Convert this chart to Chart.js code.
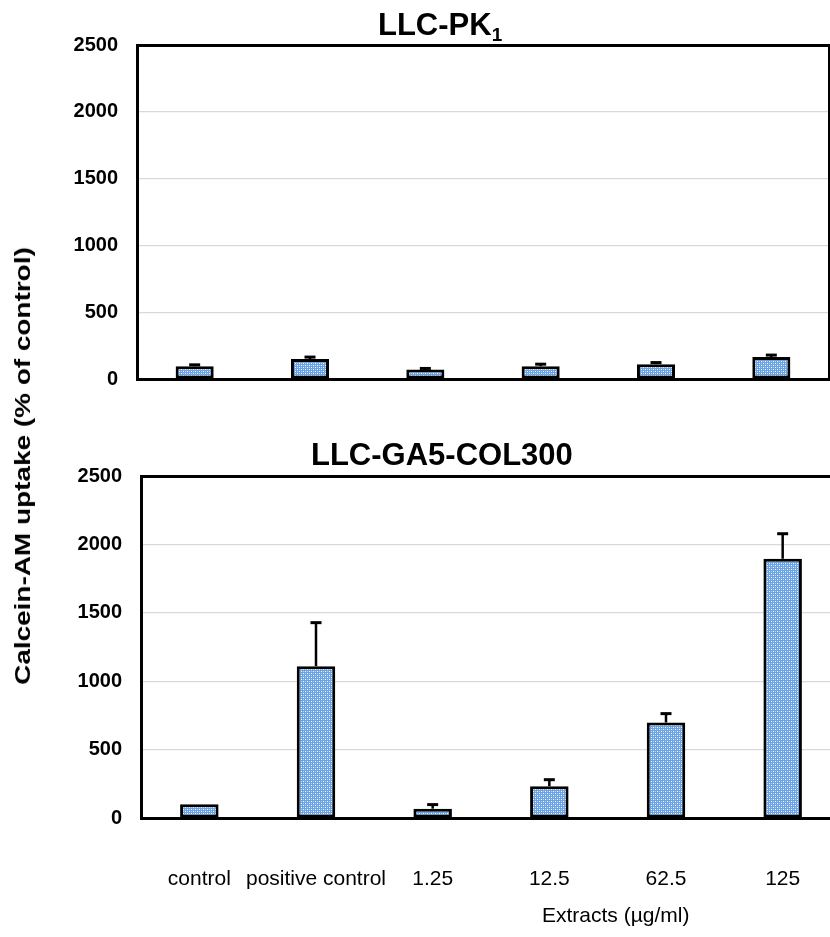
<!DOCTYPE html>
<html>
<head>
<meta charset="utf-8">
<script src="https://cdn.jsdelivr.net/npm/chart.js@4.4.1/dist/chart.umd.min.js"></script>
<style>
  html, body { margin: 0; padding: 0; background: #fff; }
  body { width: 830px; height: 937px; position: relative; overflow: hidden; font-family: "Liberation Sans", Arial, sans-serif; }
  .wrap { position: absolute; left: 0; }
  .title { position: absolute; font-weight: bold; font-size: 31px; line-height: 31px; white-space: nowrap; color: #000; }
  .title sub { font-size: 19px; vertical-align: -6px; line-height: 0; }
  #ylabel { position: absolute; left: 23px; top: 466px; font-weight: bold; font-size: 22px; line-height: 22px; white-space: nowrap;
    transform: translate(-50%, -50%) rotate(-90deg) scaleX(1.27); }
  #xlabel { position: absolute; left: 542px; top: 903px; font-size: 21px; line-height: 24px; white-space: nowrap; }
</style>
</head>
<body>
<div class="wrap" style="top:0; width:830px; height:410px;"><canvas id="chart-pk1"></canvas></div>
<div class="wrap" style="top:430px; width:850px; height:507px;"><canvas id="chart-ga5"></canvas></div>
<div class="title" style="left:378px; top:9px;">LLC-PK<sub>1</sub></div>
<div class="title" style="left:311px; top:439px;">LLC-GA5-COL300</div>
<div id="ylabel">Calcein-AM uptake (% of control)</div>
<div id="xlabel">Extracts (µg/ml)</div>
<script>
const categories = ["control", "positive control", "1.25", "12.5", "62.5", "125"];

// LLC-PK1 (top panel)
const pk1Values = [96, 149, 71, 96, 111, 164];
const pk1Errors = [10, 15, 8, 15, 12, 15];

// LLC-GA5-COL300 (bottom panel)
const ga5Values = [100, 1110, 68, 232, 698, 1895];
const ga5Errors = [0, 318, 30, 48, 65, 183];

const yMin = 0;
const yMax = 2500;
const yStep = 500;

// dotted grid fill like the office pattern
function makePattern() {
	let c = document.createElement("canvas");
	c.width = 4;
	c.height = 4;
	let g = c.getContext("2d");
	g.fillStyle = "#6aa3e3";
	g.fillRect(0, 0, 4, 4);
	g.fillStyle = "#ffffff";
	g.fillRect(1, 1, 1, 1);
	g.fillRect(3, 3, 1, 1);
	g.fillStyle = "#b8d6f4";
	g.fillRect(3, 1, 1, 1);
	g.fillRect(1, 3, 1, 1);
	return g.createPattern(c, "repeat");
}

const errorBars = {
	id: "errorBars",
	afterDatasetsDraw(chart) {
		let ctx = chart.ctx;
		let yScale = chart.scales.y;
		chart.data.datasets.forEach((ds, i) => {
			let meta = chart.getDatasetMeta(i);
			meta.data.forEach((bar, j) => {
				let err = ds.errors[j];
				if (!err) return;
				let yTop = yScale.getPixelForValue(ds.data[j] + err);
				ctx.save();
				ctx.strokeStyle = "#000";
				ctx.lineWidth = 2.5;
				ctx.beginPath();
				ctx.moveTo(bar.x, bar.y);
				ctx.lineTo(bar.x, yTop);
				ctx.stroke();
				ctx.lineWidth = 3;
				ctx.beginPath();
				ctx.moveTo(bar.x - 5.5, yTop);
				ctx.lineTo(bar.x + 5.5, yTop);
				ctx.stroke();
				ctx.restore();
			});
		});
	},
};

function buildOptions(yWidth, showLabels, xHeight, rightBorder) {
	let scales = {
		x: {
			grid: { display: false, drawTicks: false },
			border: { display: true, color: "#000", width: 3 },
			ticks: {
				display: showLabels,
				color: "#000",
				padding: 49,
				autoSkip: false,
				minRotation: 0,
				maxRotation: 0,
				font: { family: "Liberation Sans", size: 21 },
			},
			afterFit: (scale) => { scale.height = xHeight; },
		},
		y: {
			min: yMin,
			max: yMax,
			ticks: {
				stepSize: yStep,
				color: "#000",
				padding: 19,
				font: { family: "Liberation Sans", size: 20, weight: "bold" },
				callback: (v) => String(v),
			},
			grid: {
				drawTicks: false,
				color: (c) => (c.tick && c.tick.value === yMax ? "#000" : "#d9d9d9"),
				lineWidth: (c) => (c.tick && c.tick.value === yMax ? 3 : 1.2),
			},
			border: { display: true, color: "#000", width: 3 },
			afterFit: (scale) => { scale.width = yWidth; },
		},
	};
	if (rightBorder) {
		scales.yRight = {
			position: "right",
			min: yMin,
			max: yMax,
			ticks: { display: false },
			grid: { display: false, drawTicks: false },
			border: { display: true, color: "#000", width: 2 },
			afterFit: (scale) => { scale.width = 0; },
		};
	}
	return {
		responsive: true,
		maintainAspectRatio: false,
		animation: false,
		devicePixelRatio: 1,
		layout: { padding: { top: 0, left: 0, right: 0, bottom: 0 } },
		plugins: {
			legend: { display: false },
			title: { display: false },
			tooltip: { enabled: false },
		},
		scales: scales,
	};
}

function makeDataset(values, errors) {
	return {
		data: values,
		errors: errors,
		backgroundColor: makePattern(),
		borderColor: "#000",
		borderWidth: 3,
		borderSkipped: false,
		categoryPercentage: 0.33,
		barPercentage: 1,
	};
}

let pk1Options = buildOptions(137, false, 21, true);
pk1Options.layout.padding = { top: 45, right: 1, left: 0, bottom: 0 };

let ga5Options = buildOptions(141, true, 119, false);
ga5Options.layout.padding = { top: 46, right: 9, left: 0, bottom: 0 };

new Chart(document.getElementById("chart-pk1").getContext("2d"), {
	type: "bar",
	data: { labels: categories, datasets: [makeDataset(pk1Values, pk1Errors)] },
	options: pk1Options,
	plugins: [errorBars],
});

new Chart(document.getElementById("chart-ga5").getContext("2d"), {
	type: "bar",
	data: { labels: categories, datasets: [makeDataset(ga5Values, ga5Errors)] },
	options: ga5Options,
	plugins: [errorBars],
});
</script>
</body>
</html>
